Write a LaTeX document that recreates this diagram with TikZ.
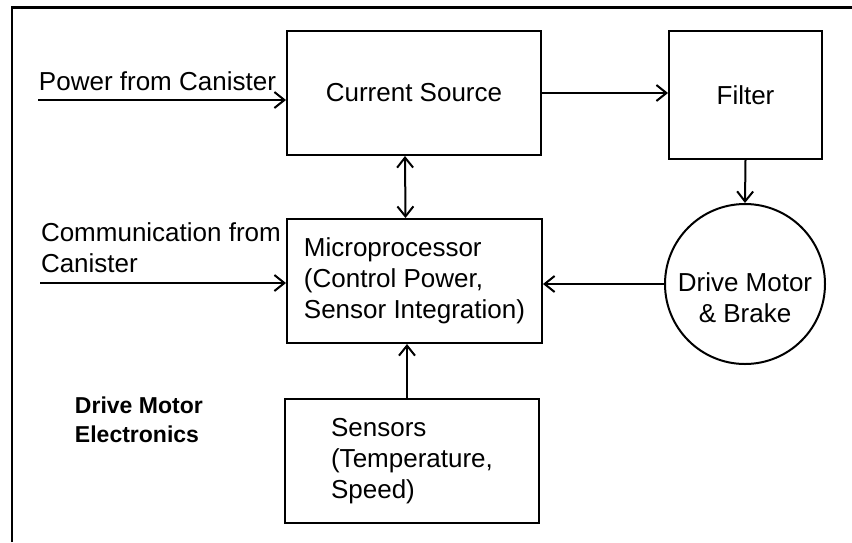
\documentclass[tikz,border=0pt]{standalone}
\usepackage{fontspec}
\setmainfont{Liberation Sans}
\usepackage{tikz}
\usetikzlibrary{arrows.meta, positioning}
\tikzset{>={Straight Barb[length=5pt,width=8pt]}}
\tikzset{blk/.style={rectangle,draw,line width=1pt,inner sep=0pt,align=left}}

\begin{document}
\begin{tikzpicture}[x=0.5pt,y=-0.5pt,line width=1pt,font=\fontsize{13}{15.5}\selectfont]
      \useasboundingbox (0,0) rectangle (852,542);
      \draw[line width=1.1pt] (12,542) -- (12,7.5) -- (852,7.5);
      \node (s1) at (414,93)[blk,minimum width=127pt,minimum height=62pt] {Current Source};
      \node (s2) at (745.5,95)[blk,minimum width=76.5pt,minimum height=64pt] {Filter};
      \node (s3) at (414.5,281)[blk,minimum width=127.5pt,minimum height=62pt]
      {Microprocessor\\(Control Power,\\Sensor Integration)};
      \node (s4) at (412,461)[blk,minimum width=127pt,minimum height=62pt]
      {Sensors\\(Temperature,\\Speed)};
      \node (s5) at (745,284)[circle,draw,minimum size=80pt,inner sep=0pt,
        label={[align=center,yshift=-7pt]center:Drive Motor\\\& Brake}] {};
      \node (t1) at (38,90)[anchor=base west,inner sep=0pt] {Power from Canister};
      \node (t2) at (40,272)[anchor=base west,inner sep=0pt,align=left]
      {Communication from\\Canister};
      \node (t3) at (74,442)[anchor=base west,inner sep=0pt,align=left,
        font=\fontsize{11.5}{14.5}\selectfont\bfseries] {Drive Motor\\Electronics};
      \coordinate (c1) at (38,100);
      \coordinate (c2) at (40,283);
        \draw [->] (c1) -- (c1 -| s1.west);
        \draw [->] (c2) -- (c2 -| s3.west);
        \draw [->] (s1.east) -- (s1.east -| s2.west);
        \draw [->] (s2.south) -- (s5.north);
        \draw [->] (s5.west) -- (s5.west -| s3.east);
        \draw [<->] ([xshift=-4.5pt]s1.south) -- ([xshift=-4.5pt]s3.north);
        \draw [->] ([xshift=-2.5pt]s4.north) -- ([xshift=-2.5pt]s4.north |- s3.south);
\end{tikzpicture}
\end{document}
